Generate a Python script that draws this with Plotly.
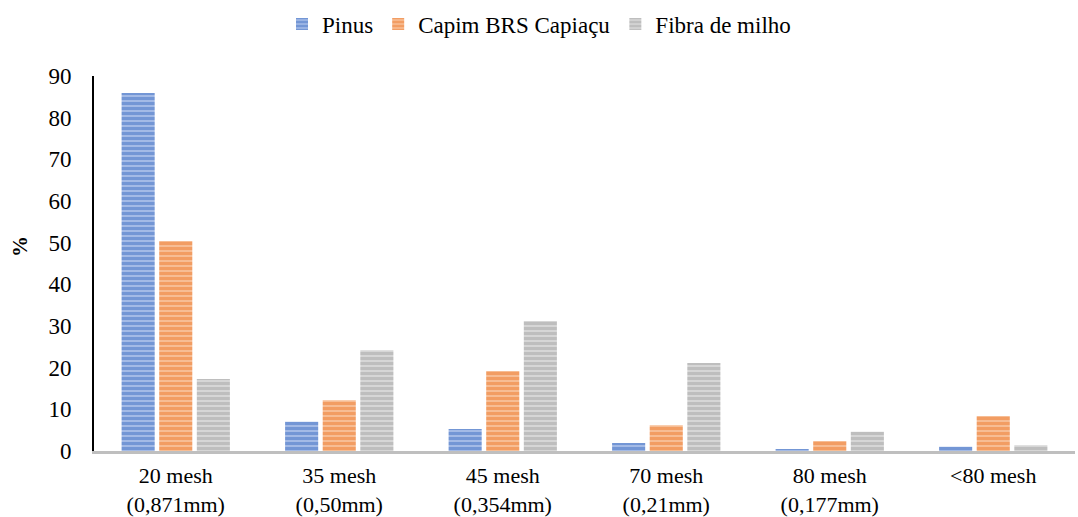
import plotly.graph_objects as go

categories = ["20 mesh<br>(0,871mm)", "35 mesh<br>(0,50mm)", "45 mesh<br>(0,354mm)",
              "70 mesh<br>(0,21mm)", "80 mesh<br>(0,177mm)", "<80 mesh"]
pinus = [85.9, 7.0, 5.3, 1.9, 0.5, 1.0]
capim = [50.4, 12.2, 19.2, 6.2, 2.4, 8.4]
fibra = [17.3, 24.2, 31.2, 21.1, 4.6, 1.4]
y_title = "%"

series = [
    ("Pinus", pinus, "#4472C4", "#A3BAE6"),
    ("Capim BRS Capiaçu", capim, "#ED7D31", "#F7BD94"),
    ("Fibra de milho", fibra, "#A5A5A5", "#D6D6D6"),
]

fig = go.Figure()
for name, vals, fg, bg in series:
    fig.add_trace(go.Bar(
        name=name, x=categories, y=vals,
        marker=dict(color=bg, line=dict(width=0),
                    pattern=dict(shape="-", fgcolor=fg, bgcolor=bg, size=5, solidity=0.6)),
    ))

fig.update_layout(
    width=1078, height=517,
    barmode="group", bargap=0.31, bargroupgap=0.12,
    plot_bgcolor="white", paper_bgcolor="white",
    margin=dict(l=94, r=3, t=76, b=66, autoexpand=False),
    font=dict(family="Liberation Serif, Times New Roman, serif", size=23, color="black"),
    legend=dict(orientation="h", x=0.5, xanchor="center", xref="container",
                y=0.995, yanchor="top", yref="container", font=dict(size=23),
                itemwidth=30, traceorder="normal"),
    showlegend=True,
    annotations=[dict(text="<b>" + y_title + "</b>", xref="paper", yref="paper",
                      x=(20 - 94) / 981, y=(451 - 247) / 375, textangle=-90,
                      showarrow=False, font=dict(size=21), xanchor="center",
                      yanchor="middle")],
)
fig.update_xaxes(showline=True, linecolor="#BFBFBF", linewidth=3, showgrid=False,
                 ticks="", tickfont=dict(size=22), automargin=False, ticklabelstandoff=3)
fig.update_yaxes(range=[0, 90], dtick=10, showgrid=False, showline=True,
                 linecolor="black", linewidth=2, ticks="", ticklabelstandoff=16,
                 zeroline=False, tickfont=dict(size=23), automargin=False)

fig.write_html("out.html", config={"displayModeBar": False},
               post_script="document.body.style.margin='0';")
